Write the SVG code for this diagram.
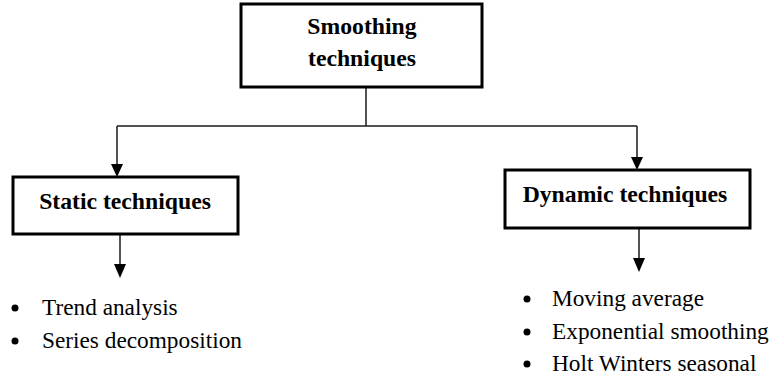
<svg xmlns="http://www.w3.org/2000/svg" width="769" height="383" viewBox="0 0 769 383">
  <style>
    .box { fill: #ffffff; stroke: #000000; stroke-width: 3; }
    .title { font-family: "Liberation Serif", "Times New Roman", serif; font-weight: bold; font-size: 23.7px; fill: #000000; text-anchor: middle; }
    .item { font-family: "Liberation Serif", "Times New Roman", serif; font-size: 23.3px; fill: #000000; }
    .link { fill: none; stroke: #1a1a1a; stroke-width: 1.5; }
    .head { fill: #000000; }
  </style>

  <g id="connectors">
    <line class="link" x1="366" y1="88" x2="366" y2="126"/>
    <line class="link" x1="117" y1="126" x2="637" y2="126"/>
    <path d="M117,126 V165" class="link"/>
    <path class="head" d="M111,164 L123,164 L117,177 Z"/>
    <path d="M637,126 V158" class="link"/>
    <path class="head" d="M631,157 L643,157 L637,170 Z"/>
    <path d="M120,234 V266" class="link" stroke-width="2"/>
    <path class="head" d="M114,264 L126,264 L120,278 Z"/>
    <path d="M639,228 V260" class="link" stroke-width="2"/>
    <path class="head" d="M633,258 L645,258 L639,272 Z"/>
  </g>

  <g id="smoothing">
    <rect class="box" x="241" y="4" width="241" height="83"/>
    <text class="title" x="362" y="34">Smoothing</text>
    <text class="title" x="362" y="66">techniques</text>
  </g>

  <g id="static">
    <rect class="box" x="13" y="177" width="225" height="57"/>
    <text class="title" x="125" y="209">Static techniques</text>
  </g>

  <g id="dynamic">
    <rect class="box" x="505" y="170" width="245" height="58"/>
    <text class="title" x="625" y="202">Dynamic techniques</text>
  </g>

  <g id="static-list">
    <circle cx="15" cy="308" r="3.5" fill="#000000"/>
    <text class="item" x="42" y="315">Trend analysis</text>
    <circle cx="15" cy="341" r="3.5" fill="#000000"/>
    <text class="item" x="42" y="348">Series decomposition</text>
  </g>

  <g id="dynamic-list">
    <circle cx="527" cy="299" r="3.5" fill="#000000"/>
    <text class="item" x="552" y="306">Moving average</text>
    <circle cx="527" cy="332" r="3.5" fill="#000000"/>
    <text class="item" x="552" y="339">Exponential smoothing</text>
    <circle cx="527" cy="364" r="3.5" fill="#000000"/>
    <text class="item" x="552" y="371">Holt Winters seasonal</text>
  </g>
</svg>
